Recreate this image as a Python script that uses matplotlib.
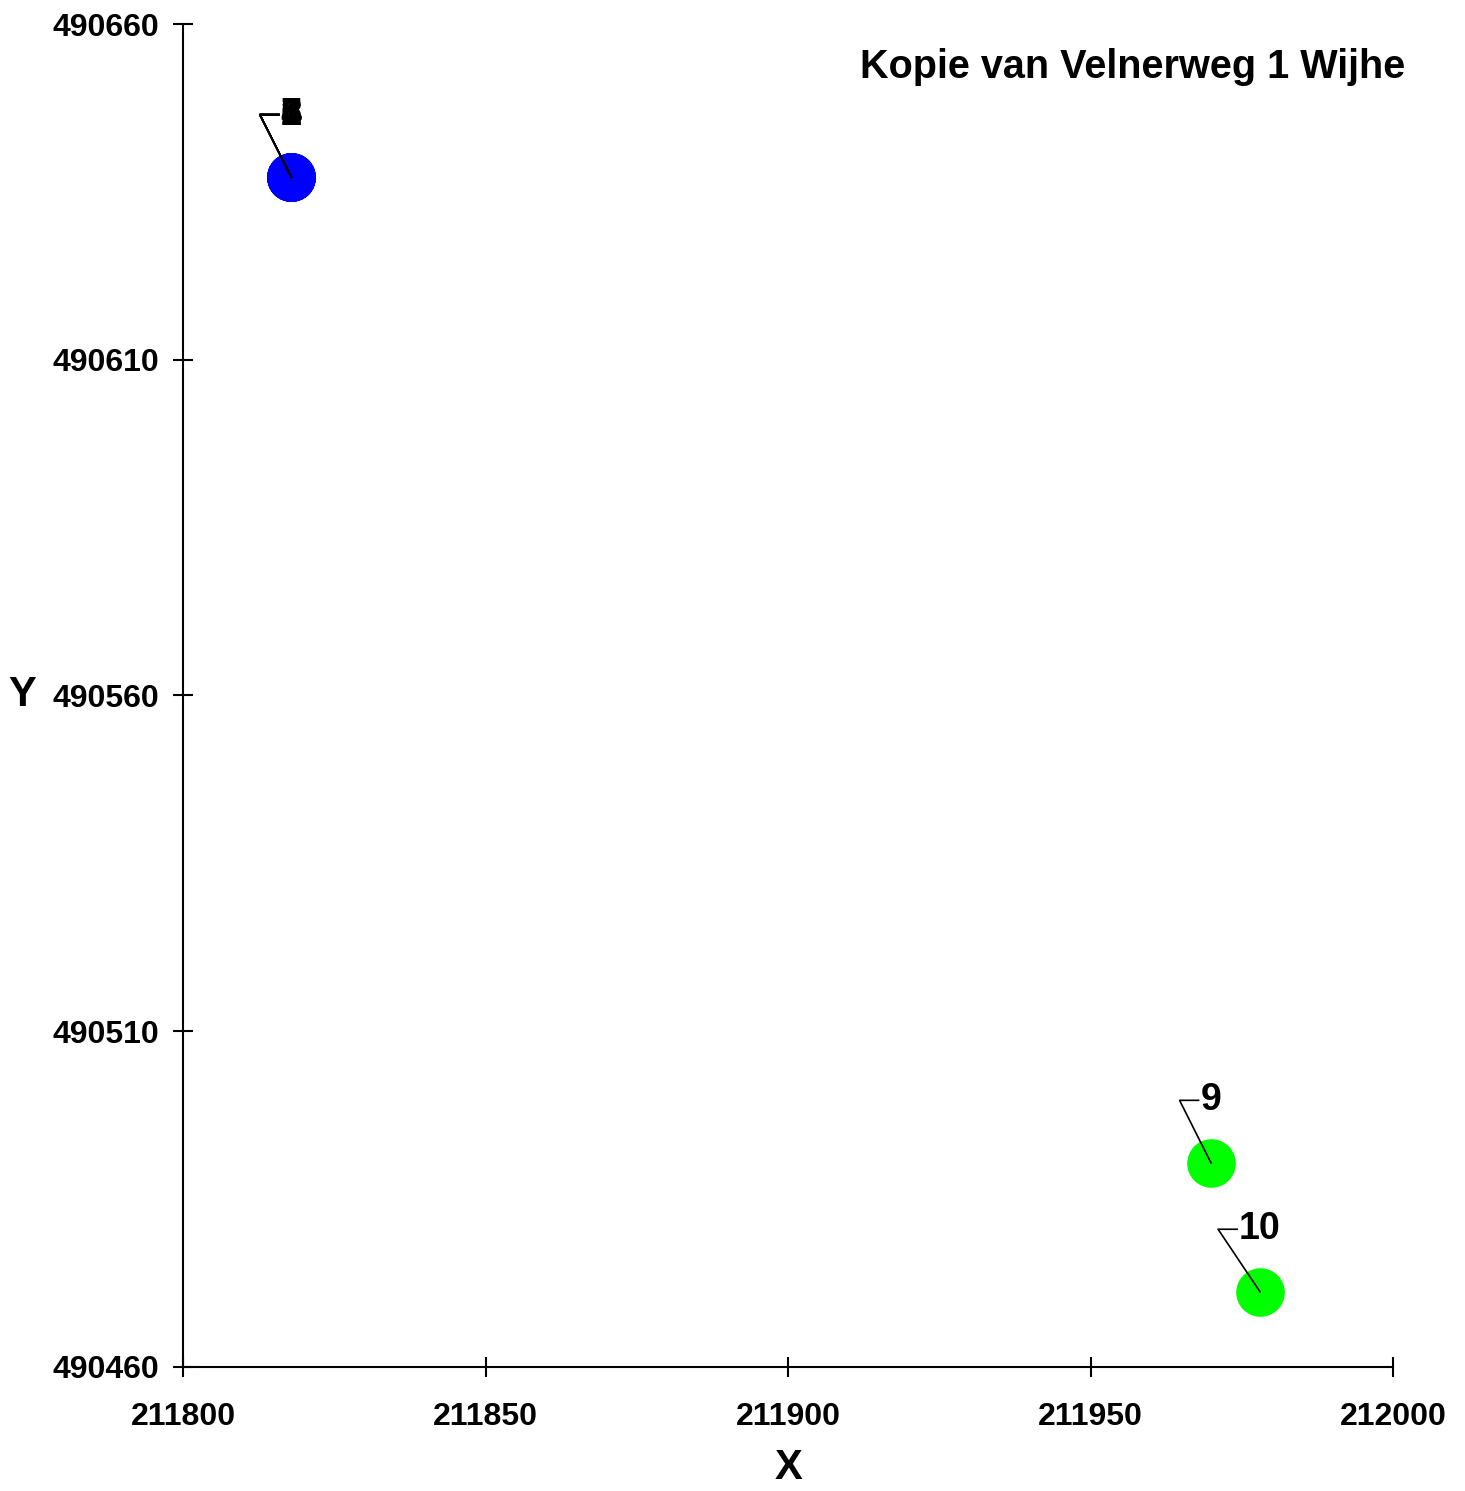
import matplotlib.pyplot as plt
import matplotlib.ticker as mticker

# punten (RD-coördinaten)
labels = ['1', '2', '3', '4', '5', '6', '7', '8', '9', '10']
x_vals = [211817.9] * 8 + [211969.9, 211978.0]
y_vals = [490637.2] * 8 + [490490.4, 490471.2]
colors = ['#0000ff'] * 8 + ['#00ff00', '#00ff00']

title = 'Kopie van Velnerweg 1 Wijhe'
x_ticks = [211800, 211850, 211900, 211950, 212000]
y_ticks = [490460, 490510, 490560, 490610, 490660]

plt.rcParams['font.family'] = ['Liberation Sans', 'DejaVu Sans']
plt.rcParams['font.weight'] = 'bold'

fig = plt.figure(figsize=(14.65, 14.91), dpi=100)
ax = fig.add_axes([0.1249, 0.0832, 0.8260, 0.9007])

for x, y, c in zip(x_vals, y_vals, colors):
    ax.plot(x, y, 'o', color=c, markersize=35, markeredgewidth=0, zorder=3)

ax.set_xlim(x_ticks[0], x_ticks[-1])
ax.set_ylim(y_ticks[0], y_ticks[-1])
ax.set_xticks(x_ticks)
ax.set_yticks(y_ticks)
ax.xaxis.set_major_formatter(mticker.FormatStrFormatter('%d'))
ax.yaxis.set_major_formatter(mticker.FormatStrFormatter('%d'))
ax.tick_params(direction='inout', length=14, width=1.5, labelsize=23)
ax.tick_params(axis='x', pad=18)
ax.tick_params(axis='y', pad=10)
for lbl in ax.get_xticklabels() + ax.get_yticklabels():
    lbl.set_fontweight('bold')
ax.spines['top'].set_visible(False)
ax.spines['right'].set_visible(False)
ax.spines['left'].set_linewidth(1.5)
ax.spines['bottom'].set_linewidth(1.5)

ax.set_xlabel('X', fontsize=30, fontweight='bold', va='center')
ax.xaxis.set_label_coords(0.5, -0.075)
ax.set_ylabel('Y', fontsize=30, fontweight='bold', rotation=0,
              ha='center', va='center')
ax.yaxis.set_label_coords(-0.133, 0.5)
ax.text(1.01, 0.968, title, transform=ax.transAxes, ha='right', va='center',
        fontsize=28.5, fontweight='bold')

# labels met aanwijslijnen
texts = []
for lab, x, y in zip(labels, x_vals, y_vals):
    t = ax.annotate(lab, (x, y), xytext=(0, 45), textcoords='offset points',
                    ha='center', va='center', fontsize=27, fontweight='bold',
                    zorder=4)
    texts.append(t)

fig.canvas.draw()
inv = ax.transData.inverted()
for t, x, y in zip(texts, x_vals, y_vals):
    bb = t.get_window_extent()
    ym = (bb.y0 + bb.y1) / 2
    corner = inv.transform((bb.x0 - 21, ym))
    hend = inv.transform((bb.x0 - 2, ym))
    ax.plot([x, corner[0], hend[0]], [y, corner[1], hend[1]], color='black',
            linewidth=1.2, zorder=3.5, clip_on=False)

ax.set_xlim(x_ticks[0], x_ticks[-1])
ax.set_ylim(y_ticks[0], y_ticks[-1])

fig.savefig('out.png', dpi=100)
